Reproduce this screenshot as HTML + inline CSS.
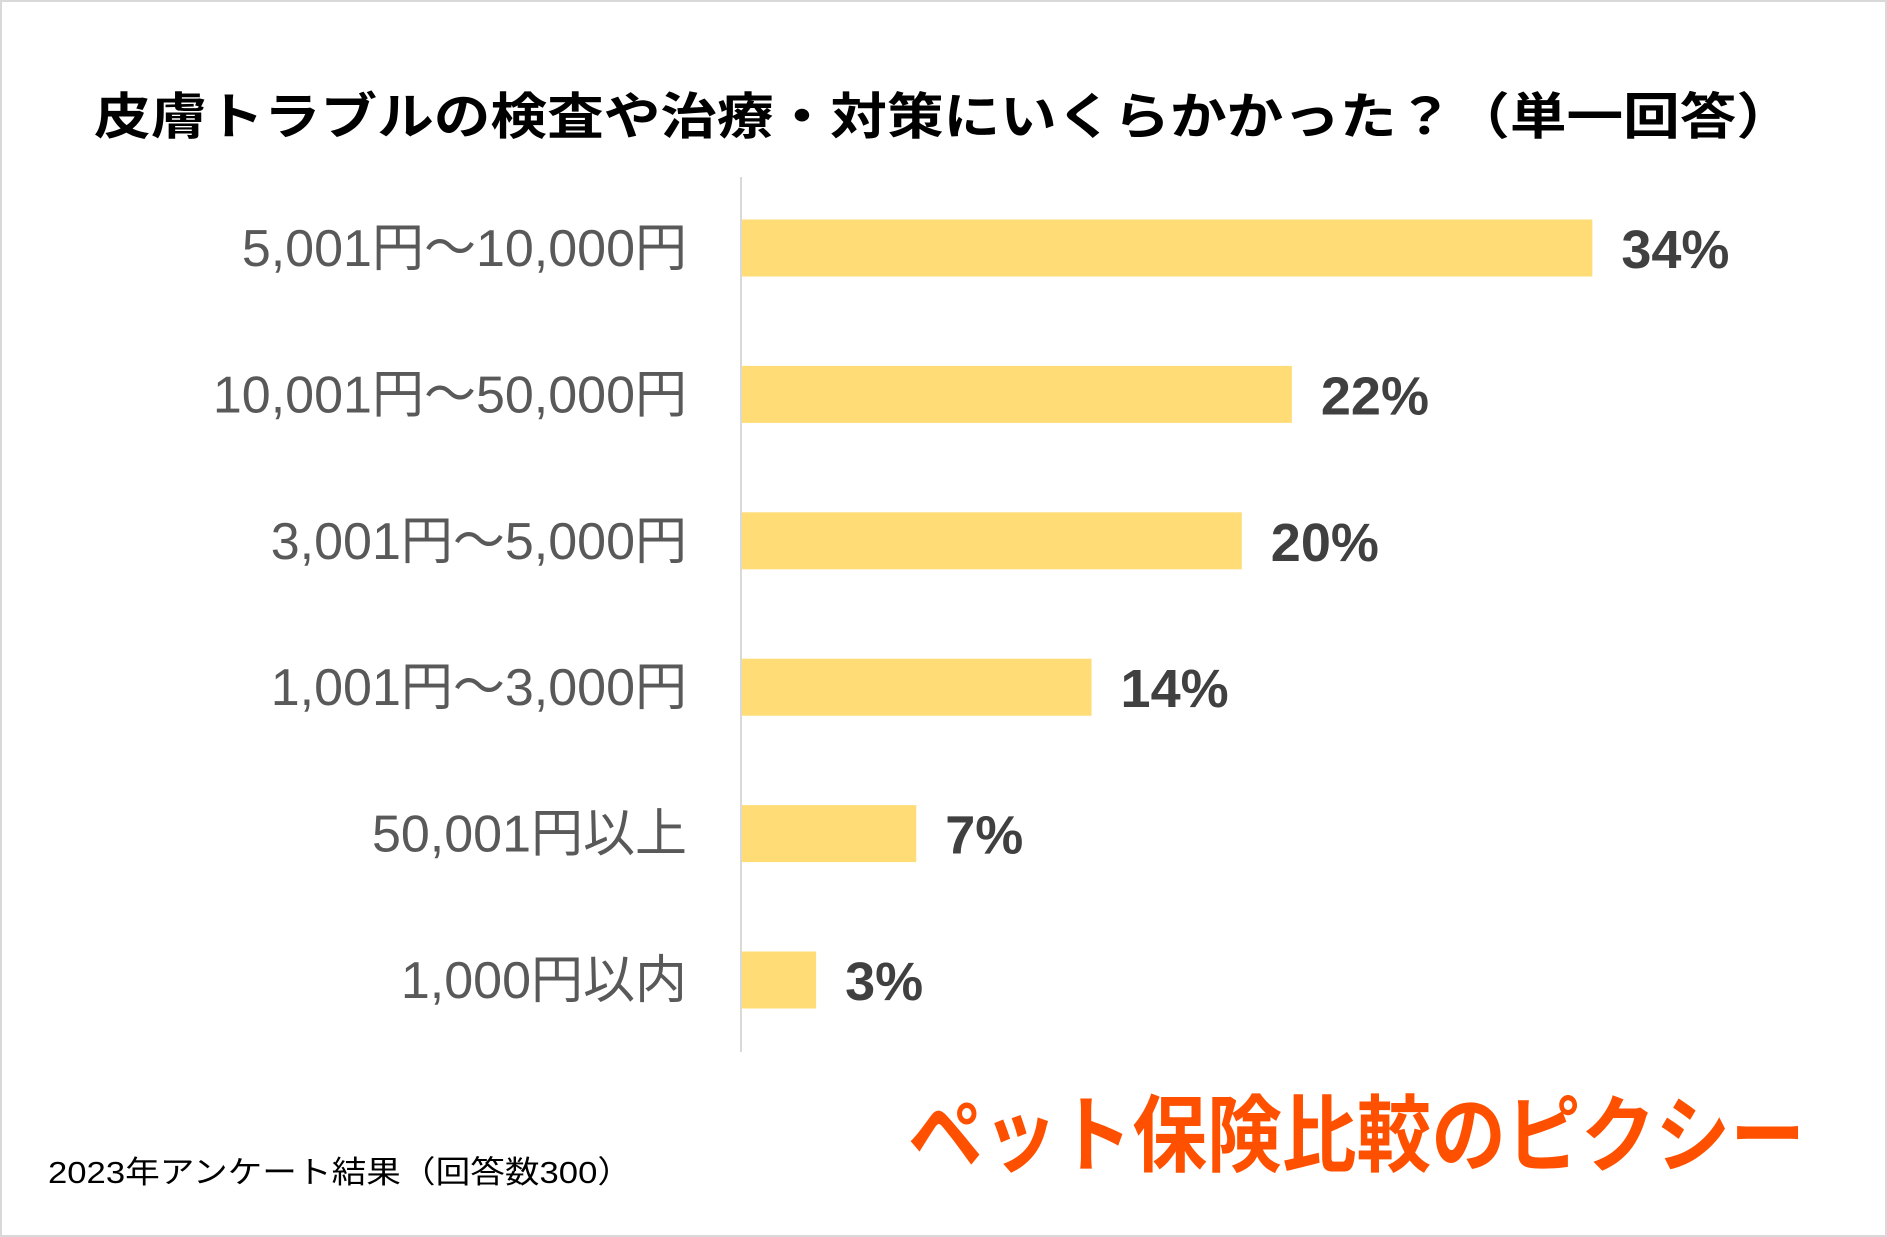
<!DOCTYPE html>
<html><head><meta charset="utf-8"><style>
html,body{margin:0;padding:0;background:#fff}
svg{display:block}
text{font-family:"Liberation Sans","Noto Sans CJK JP",sans-serif}
</style></head><body>
<svg id="chart" width="1887" height="1237" viewBox="0 0 1887 1237">
<rect x="1" y="1" width="1885" height="1235" fill="#fff" stroke="#d9d9d9" stroke-width="2"/>
<text x="94" y="134" font-size="50" font-weight="bold" fill="#000" textLength="1699" lengthAdjust="spacingAndGlyphs">皮膚トラブルの検査や治療・対策にいくらかかった？（単一回答）</text>
<line x1="741" y1="177" x2="741" y2="1052" stroke="#d9d9d9" stroke-width="2"/>
<g id="bars"></g>
<text x="48" y="1183" font-size="31" fill="#000" textLength="584" lengthAdjust="spacingAndGlyphs">2023年アンケート結果（回答数300）</text>
<text x="908" y="1165" font-size="84" font-weight="bold" fill="#ff5000" textLength="897" lengthAdjust="spacingAndGlyphs">ペット保険比較のピクシー</text>
</svg>
<script>
const categories = ["5,001円～10,000円","10,001円～50,000円","3,001円～5,000円","1,001円～3,000円","50,001円以上","1,000円以内"];
const values = [34,22,20,14,7,3];
const valueLabels = ["34%","22%","20%","14%","7%","3%"];
const x0 = 741, pxPer = 25.04;
const xScale = v => x0 + v * pxPer;
const yCenter = i => 248 + i * 146.4;
const barH = 57;
const ns = "http://www.w3.org/2000/svg";
const g = document.getElementById("bars");
categories.forEach((c, i) => {
  const cy = yCenter(i);
  const r = document.createElementNS(ns, "rect");
  r.setAttribute("x", x0 + 1);
  r.setAttribute("y", cy - barH / 2);
  r.setAttribute("width", xScale(values[i]) - x0 - 1);
  r.setAttribute("height", barH);
  r.setAttribute("fill", "#ffdc76");
  
  
  g.appendChild(r);
  const t = document.createElementNS(ns, "text");
  t.setAttribute("x", 687);
  t.setAttribute("y", cy + 18);
  t.setAttribute("text-anchor", "end");
  t.setAttribute("font-size", "52");
  t.setAttribute("fill", "#595959");
  t.textContent = c;
  
  
  g.appendChild(t);
  const v = document.createElementNS(ns, "text");
  v.setAttribute("x", xScale(values[i]) + 29);
  v.setAttribute("y", cy + 20);
  v.setAttribute("font-size", "54");
  v.setAttribute("font-weight", "bold");
  v.setAttribute("fill", "#404040");
  v.textContent = valueLabels[i];
  
  
  g.appendChild(v);
});
</script>
</body></html>
